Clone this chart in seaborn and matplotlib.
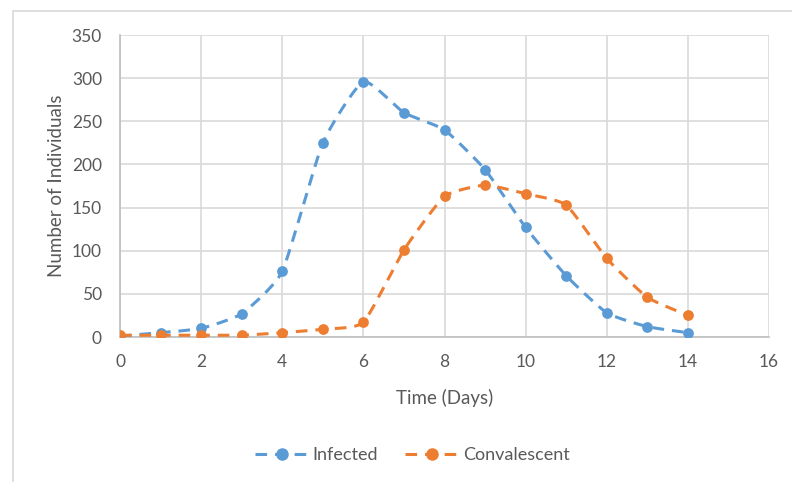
import numpy as np
import pandas as pd
import matplotlib
matplotlib.use("Agg")
import matplotlib.pyplot as plt
from matplotlib.lines import Line2D
from matplotlib.patches import Rectangle
import seaborn as sns

days = list(range(15))
infected = [1, 5, 10, 27, 76, 225, 296, 260, 240, 194, 127, 71, 28, 12, 5]
convalescent = [2, 2, 2, 2, 5, 9, 17, 101, 163, 176, 166, 153, 91, 46, 25]
series_names = ["Infected", "Convalescent"]
colors = ["#5B9BD5", "#ED7D31"]
x_ticks = [0, 2, 4, 6, 8, 10, 12, 14, 16]
y_ticks = [0, 50, 100, 150, 200, 250, 300, 350]


def smooth(x, y, n=20):
    """Catmull-Rom style smoothing of a polyline (like Excel smoothed lines)."""
    x = np.asarray(x, float)
    y = np.asarray(y, float)
    px = np.concatenate([[2 * x[0] - x[1]], x, [2 * x[-1] - x[-2]]])
    py = np.concatenate([[2 * y[0] - y[1]], y, [2 * y[-1] - y[-2]]])
    xs, ys = [], []
    t = np.linspace(0, 1, n, endpoint=False)
    s = 0.25
    for i in range(1, len(px) - 2):
        p0, p1, p2, p3 = (np.array([px[j], py[j]]) for j in (i - 1, i, i + 1, i + 2))
        m1 = s * (p2 - p0)
        m2 = s * (p3 - p1)
        h00 = 2 * t**3 - 3 * t**2 + 1
        h10 = t**3 - 2 * t**2 + t
        h01 = -2 * t**3 + 3 * t**2
        h11 = t**3 - t**2
        pts = (np.outer(h00, p1) + np.outer(h10, m1) + np.outer(h01, p2) + np.outer(h11, m2))
        xs.extend(pts[:, 0])
        ys.extend(pts[:, 1])
    xs.append(x[-1])
    ys.append(y[-1])
    return np.array(xs), np.array(ys)


sns.set_theme(style="white")
plt.rcParams["font.family"] = ["Lato", "DejaVu Sans"]

fig = plt.figure(figsize=(7.92, 4.82), dpi=100)
ax = fig.add_axes([120 / 792, 1 - 337 / 482, (769 - 120) / 792, (337 - 35) / 482])

# outer chart frame
fig.patches.append(Rectangle((13 / 792, -0.1), 1.2, 1 - 11 / 482 + 0.1,
                             transform=fig.transFigure, fill=False,
                             edgecolor="#D9D9D9", linewidth=1.2, zorder=0))

dash = (0, (3.8, 2.6))
for name, vals, c in zip(series_names, [infected, convalescent], colors):
    sx, sy = smooth(days, vals)
    sns.lineplot(x=sx, y=sy, ax=ax, color=c, linewidth=2.2, sort=False,
                 estimator=None, dashes=False, zorder=3)
    ax.lines[-1].set_linestyle(dash)
    sns.scatterplot(x=days, y=vals, ax=ax, color=c, s=60, edgecolor=c,
                    linewidth=0, zorder=4)

ax.set_xlim(0, 16)
ax.set_ylim(0, 350)
ax.set_xticks(x_ticks)
ax.set_yticks(y_ticks)
ax.grid(True, color="#D9D9D9", linewidth=1.2)
ax.set_axisbelow(True)
for side in ["top", "right"]:
    ax.spines[side].set_visible(False)
for side in ["left", "bottom"]:
    ax.spines[side].set_color("#BFBFBF")
    ax.spines[side].set_linewidth(1.2)
ax.tick_params(axis="y", colors="#595959", labelsize=12.5, length=0, pad=13)
ax.tick_params(axis="x", colors="#595959", labelsize=12.5, length=0, pad=12)
ax.set_xlabel("Time (Days)", fontsize=13.5, color="#595959", labelpad=14)
ax.set_ylabel("Number of Individuals", fontsize=13.5, color="#595959", labelpad=5)

handles = [Line2D([0], [0], color=c, linestyle=dash, linewidth=2.2,
                  marker="o", markersize=8) for c in colors]
fig.legend(handles, series_names, loc="center", bbox_to_anchor=(412 / 792, 1 - 455 / 482),
           ncol=2, frameon=False, fontsize=13, labelcolor="#595959",
           handlelength=3.0, columnspacing=1.5, handletextpad=0.2)

fig.savefig("out.png", dpi=100)
